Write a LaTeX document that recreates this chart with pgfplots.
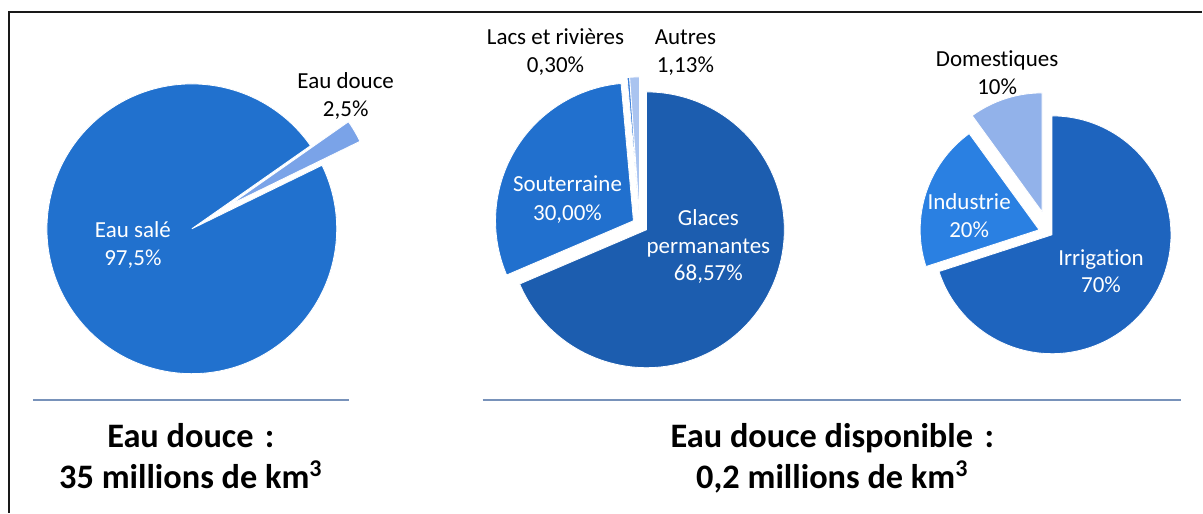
\documentclass[border=0pt]{standalone}
\usepackage{pgfplots}
\pgfplotsset{compat=1.18}
\usepackage{fontspec}
\setmainfont{Carlito}[Ligatures=NoCommon]
\definecolor{saltc}{RGB}{33,113,206}
\definecolor{freshc}{RGB}{122,163,232}
\definecolor{glacec}{RGB}{28,93,175}
\definecolor{soutc}{RGB}{33,112,206}
\definecolor{lacsc}{RGB}{60,128,218}
\definecolor{autrc}{RGB}{170,196,240}
\definecolor{irric}{RGB}{30,100,190}
\definecolor{induc}{RGB}{42,128,226}
\definecolor{domec}{RGB}{146,178,234}
\definecolor{rulec}{RGB}{120,146,186}
\definecolor{framec}{RGB}{25,25,25}
% apex x, apex y, radius (px), clockwise start angle, percent, colour
\newcommand{\pieslice}[6]{%
  \fill[#6, draw=white, line width=0.5pt] (axis cs:#1,#2) -- ++({#4-#5*3.6}:{#3*0.6pt})
    arc[start angle={#4-#5*3.6}, end angle={#4}, radius={#3*0.6pt}] -- cycle;}
\newcommand{\lab}{\fontsize{13.8}{16}\selectfont}
\newcommand{\ttl}{\fontsize{20.6}{24}\selectfont\bfseries}
\begin{document}
\begin{tikzpicture}
\begin{axis}[x=0.6pt, y=0.6pt, xmin=0, xmax=1203, ymin=0, ymax=513,
  hide axis, clip=false]
\path (axis cs:0,0) rectangle (axis cs:1203,513);
% frame
\draw[framec, line width=1.3pt] (axis cs:9,0) -- (axis cs:9,501) -- (axis cs:1203,501);
% Pie 1 : Eau salee / Eau douce
\pieslice{192}{284}{145}{26}{97.5}{saltc}
\pieslice{230}{308}{145}{35}{2.5}{freshc}
% Pie 2 : eau douce
\pieslice{647}{283}{138}{90}{68.57}{glacec}
\pieslice{634}{292}{138}{-156.852}{30.00}{soutc}
\pieslice{640}{298}{138}{-264.852}{0.30}{lacsc}
\pieslice{640}{298}{138}{-265.932}{1.13}{autrc}
% Pie 3 : usages
\pieslice{1053}{278}{119}{90}{70}{irric}
\pieslice{1040}{283}{119}{-162}{20}{induc}
\pieslice{1043}{301}{119}{-234}{10}{domec}
% rules
\draw[rulec, line width=1.2pt] (axis cs:33,113) -- (axis cs:349,113);
\draw[rulec, line width=1.2pt] (axis cs:483,113) -- (axis cs:1182,113);
% labels pie 1
\node[anchor=base, inner sep=0pt] at (axis cs:346,424) {\lab Eau douce};
\node[anchor=base, inner sep=0pt] at (axis cs:346,396) {\lab 2,5\%};
\node[anchor=base, inner sep=0pt, white] at (axis cs:133,275) {\lab Eau salé};
\node[anchor=base, inner sep=0pt, white] at (axis cs:133,247) {\lab 97,5\%};
% labels pie 2
\node[anchor=base, inner sep=0pt] at (axis cs:556,468) {\lab Lacs et rivières};
\node[anchor=base, inner sep=0pt] at (axis cs:556,440) {\lab 0,30\%};
\node[anchor=base, inner sep=0pt] at (axis cs:686,468) {\lab Autres};
\node[anchor=base, inner sep=0pt] at (axis cs:686,440) {\lab 1,13\%};
\node[anchor=base, inner sep=0pt, white] at (axis cs:568,321) {\lab Souterraine};
\node[anchor=base, inner sep=0pt, white] at (axis cs:568,292) {\lab 30,00\%};
\node[anchor=base, inner sep=0pt, white] at (axis cs:709,287) {\lab Glaces};
\node[anchor=base, inner sep=0pt, white] at (axis cs:709,259) {\lab permanantes};
\node[anchor=base, inner sep=0pt, white] at (axis cs:709,232) {\lab 68,57\%};
% labels pie 3
\node[anchor=base, inner sep=0pt] at (axis cs:998,446) {\lab Domestiques};
\node[anchor=base, inner sep=0pt] at (axis cs:998,418) {\lab 10\%};
\node[anchor=base, inner sep=0pt, white] at (axis cs:970,303) {\lab Industrie};
\node[anchor=base, inner sep=0pt, white] at (axis cs:970,275) {\lab 20\%};
\node[anchor=base, inner sep=0pt, white] at (axis cs:1102,247) {\lab Irrigation};
\node[anchor=base, inner sep=0pt, white] at (axis cs:1102,220) {\lab 70\%};
% titles
\node[anchor=base, inner sep=0pt] at (axis cs:191,65) {\ttl Eau douce\,\,:};
\node[anchor=base, inner sep=0pt] at (axis cs:191,24) {\ttl 35 millions de km\textsuperscript{3}};
\node[anchor=base, inner sep=0pt] at (axis cs:833,65) {\ttl Eau douce disponible\,\,:};
\node[anchor=base, inner sep=0pt] at (axis cs:833,24) {\ttl 0,2 millions de km\textsuperscript{3}};
\end{axis}
\end{tikzpicture}
\end{document}
